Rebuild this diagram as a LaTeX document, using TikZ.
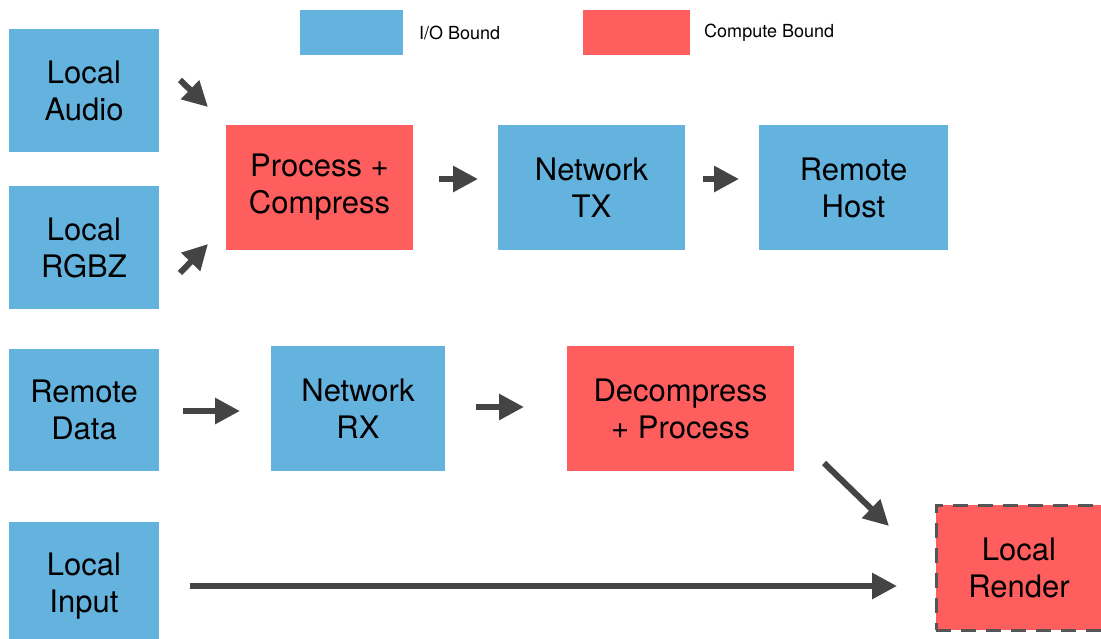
\documentclass[tikz,border=0pt]{standalone}
\usepackage{fontspec}
\setmainfont{TeX Gyre Heros}
\usetikzlibrary{arrows.meta}
\definecolor{iob}{HTML}{64B2DE}
\definecolor{cpb}{HTML}{FF5E5E}
\definecolor{arr}{HTML}{444444}
\definecolor{dashc}{HTML}{555555}
\tikzset{
  box/.style={rectangle, inner sep=0pt, align=center, font=\fontsize{31}{37}\selectfont, text=black},
  iobox/.style={box, fill=iob},
  cpbox/.style={box, fill=cpb},
  legtext/.style={anchor=west, inner sep=0pt, font=\fontsize{18}{21}\selectfont},
  flow/.style={draw=arr, line width=6pt, -{Triangle[length=25pt,width=25pt]}, color=arr},
}
\begin{document}
\begin{tikzpicture}[x=1pt,y=-1pt]
\useasboundingbox (0,0) rectangle (1101,638);
\begin{scope}
\clip (0,0) rectangle (1101,638);
% legend
\node[iobox, minimum width=103pt, minimum height=45pt] (legio) at (351.5,32.5) {};
\node[legtext] (legiot) at (419,33) {I/O Bound};
\node[cpbox, minimum width=107pt, minimum height=45pt] (legcp) at (636.5,32.5) {};
\node[legtext] (legcpt) at (704,33) {Compute Bound};
% nodes
\node[iobox, minimum width=150pt, minimum height=123pt] (audio) at (84,90.5) {Local\\Audio};
\node[iobox, minimum width=150pt, minimum height=123pt] (rgbz) at (84,247.5) {Local\\RGBZ};
\node[cpbox, minimum width=187pt, minimum height=125pt] (pc) at (319.5,187.5) {Process +\\Compress};
\node[iobox, minimum width=187pt, minimum height=125pt] (tx) at (591.5,187.5) {Network\\TX};
\node[iobox, minimum width=189pt, minimum height=125pt] (host) at (853.5,187.5) {Remote\\Host};
\node[iobox, minimum width=150pt, minimum height=122pt] (rdata) at (84,410) {Remote\\Data};
\node[iobox, minimum width=174pt, minimum height=125pt] (rx) at (358,408.5) {Network\\RX};
\node[cpbox, minimum width=227pt, minimum height=125pt] (dec) at (680.5,408.5) {Decompress\\+ Process};
\node[iobox, minimum width=150pt, minimum height=128pt] (linput) at (84,586) {Local\\Input};
\node[cpbox, minimum width=166pt, minimum height=125pt, draw=dashc, line width=3pt, dash pattern=on 15pt off 10pt] (render) at (1019,567.5) {Local\\Render};
% arrow endpoints
\coordinate (a1s) at (180,80);  \coordinate (a1e) at (208,107);
\coordinate (a2s) at (180,273); \coordinate (a2e) at (208,244);
\coordinate (a3s) at (439,179); \coordinate (a3e) at (478,179);
\coordinate (a4s) at (703,179); \coordinate (a4e) at (739,179);
\coordinate (a5s) at (183,411); \coordinate (a5e) at (240,411);
\coordinate (a6s) at (476,407); \coordinate (a6e) at (524,407);
\coordinate (a7s) at (824,463); \coordinate (a7e) at (889,526);
\coordinate (a8s) at (190,586); \coordinate (a8e) at (897,586);
\draw[flow] (a1s) -- (a1e);
\draw[flow] (a2s) -- (a2e);
\draw[flow] (a3s) -- (a3e);
\draw[flow] (a4s) -- (a4e);
\draw[flow] (a5s) -- (a5e);
\draw[flow] (a6s) -- (a6e);
\draw[flow] (a7s) -- (a7e);
\draw[flow] (a8s) -- (a8e);
\end{scope}
\end{tikzpicture}
\end{document}
